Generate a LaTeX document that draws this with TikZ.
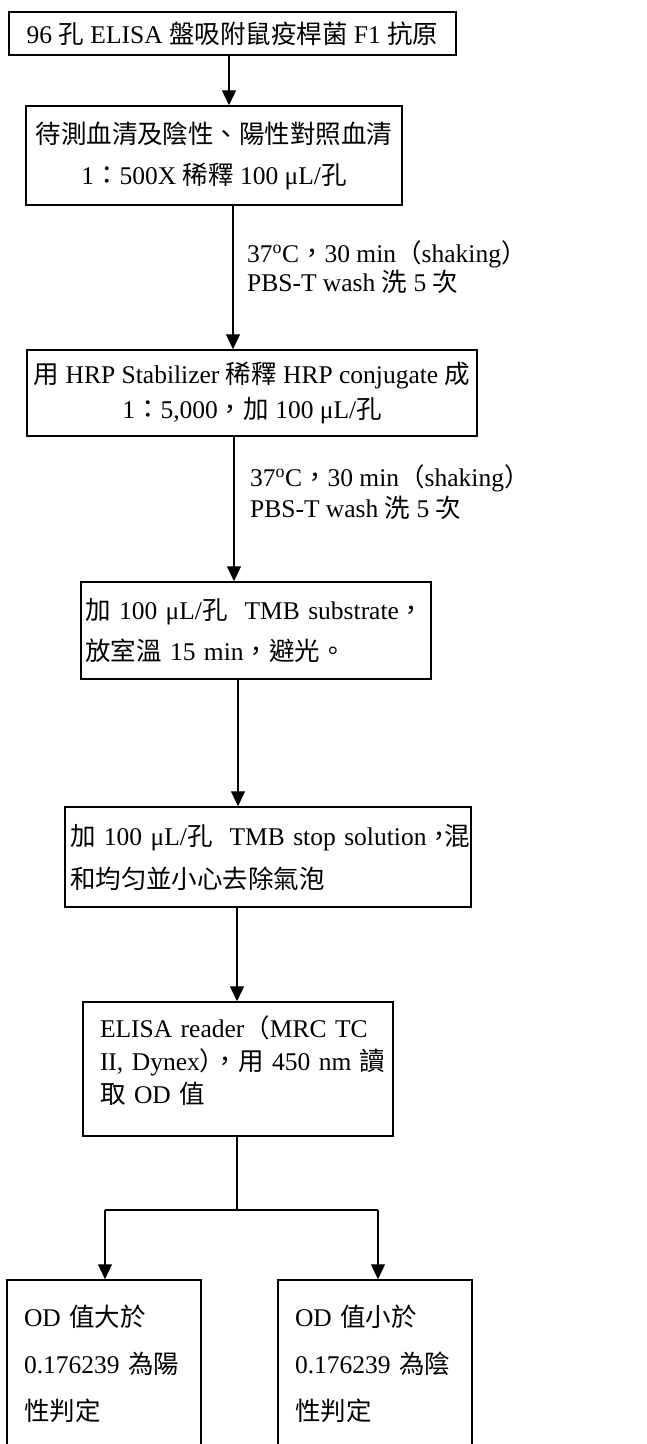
\documentclass[tikz,border=0pt]{standalone}
\usepackage{fontspec}
\setmainfont{Liberation Serif}
\newfontfamily\zh{Noto Sans CJK TC}
\usetikzlibrary{arrows.meta}
\begin{document}
\begin{tikzpicture}[x=1pt,y=-1pt,
  box/.style={draw,line width=1.5pt,rectangle,inner sep=0pt},
  txt/.style={font=\fontsize{25.5}{#1}\selectfont},
  arr/.style={line width=1.2pt,-{Triangle[width=14pt,length=15pt]}},
  ln/.style={line width=1.2pt}]
\useasboundingbox (0,0) rectangle (647,1444);
\clip (0,0) rectangle (647,1444);
\node[box,txt=30,minimum width=447pt,minimum height=43pt] (b1) at (232.5,33.5)
  {96 {\zh 孔} ELISA {\zh 盤吸附鼠疫桿菌} F1 {\zh 抗原}};
\node[box,txt=41,align=center,minimum width=376pt,minimum height=99pt] (b2) at (214,155.5)
  {{\zh 待測血清及陰性、陽性對照血清}\\1{\zh ：}500X {\zh 稀釋} 100 μL/{\zh 孔}};
\node[txt=29,align=left,anchor=west,inner sep=0pt] (l1) at (247,267.5)
  {37\textsuperscript{o}C{\zh ，}30 min{\zh （}shaking{\zh ）}\\PBS-T wash {\zh 洗} 5 {\zh 次}};
\node[box,txt=35,align=center,minimum width=450pt,minimum height=86pt] (b3) at (252,393)
  {{\zh 用} HRP Stabilizer {\zh 稀釋} HRP conjugate {\zh 成}\\1{\zh ：}5,000{\zh ，加} 100 μL/{\zh 孔}};
\node[txt=31,align=left,anchor=west,inner sep=0pt] (l2) at (250,492.5)
  {37\textsuperscript{o}C{\zh ，}30 min{\zh （}shaking{\zh ）}\\PBS-T wash {\zh 洗} 5 {\zh 次}};
\node[box,txt=41,align=left,inner xsep=4pt,text width=342pt,minimum height=97pt] (b4) at (256,630.5)
  {\mbox{{\zh 加} 100 μL/{\zh 孔}\ \ TMB substrate{\zh ，}}\\\mbox{{\zh 放室溫} 15 min{\zh ，避光。}}};
\node[box,txt=43,align=left,inner xsep=5pt,text width=396pt,minimum height=100pt] (b5) at (268,857)
  {\mbox{{\zh 加} 100 μL/{\zh 孔}\ \ TMB stop solution{\zh ，\kern-0.3em 混}}\\\mbox{{\zh 和均匀並小心去除氣泡}}};
\node[box,txt=33,align=left,inner xsep=17pt,text width=276pt,minimum height=134pt] (b6) at (238,1069)
  {\mbox{ELISA reader{\zh （}MRC TC}\\\mbox{II, Dynex{\zh ）\kern-0.5em，用} 450 nm {\zh 讀}}\\\mbox{{\zh 取} OD {\zh 值}\rule[-19pt]{0pt}{0pt}}};
\node[box,txt=47,align=left,inner xsep=17pt,text width=160pt,minimum height=168pt] (b7) at (104,1364)
  {\mbox{OD {\zh 值大於}}\\\mbox{0.176239 {\zh 為陽}}\\\mbox{{\zh 性判定}}};
\node[box,txt=47,align=left,inner xsep=17pt,text width=160pt,minimum height=168pt] (b8) at (375,1364)
  {\mbox{OD {\zh 值小於}}\\\mbox{0.176239 {\zh 為陰}}\\\mbox{{\zh 性判定}}};
\coordinate (x1) at (229,0);
\coordinate (x2) at (233,0);
\coordinate (x3) at (234,0);
\coordinate (x4) at (238,0);
\coordinate (x5) at (237,0);
\coordinate (j) at (237,1210);
\coordinate (jl) at (105,1210);
\coordinate (jr) at (378,1210);
\draw[arr] (b1.south -| x1) -- (b2.north -| x1);
\draw[arr] (b2.south -| x2) -- (b3.north -| x2);
\draw[arr] (b3.south -| x3) -- (b4.north -| x3);
\draw[arr] (b4.south -| x4) -- (b5.north -| x4);
\draw[arr] (b5.south -| x5) -- (b6.north -| x5);
\draw[ln] (b6.south -| j) -- (j);
\draw[ln] (jl) -- (jr);
\draw[arr] (jl) -- (b7.north -| jl);
\draw[arr] (jr) -- (b8.north -| jr);
\end{tikzpicture}
\end{document}
